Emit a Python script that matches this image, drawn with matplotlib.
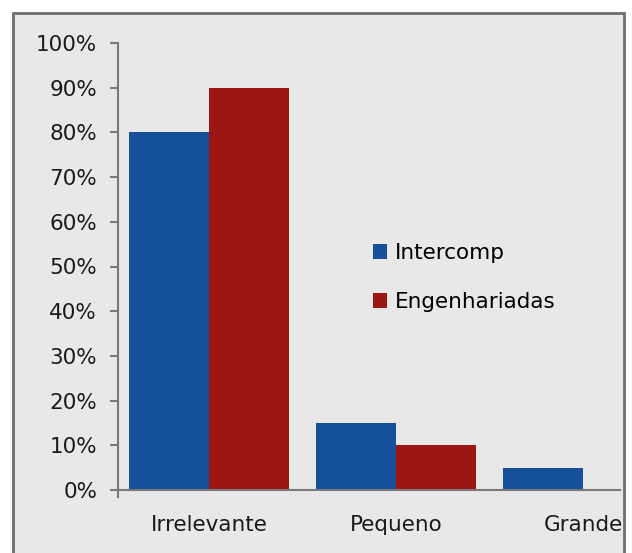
import numpy as np
import matplotlib
matplotlib.use("Agg")
import matplotlib.pyplot as plt
from matplotlib.patches import Rectangle
from matplotlib.ticker import PercentFormatter

# Data
categories = ['Irrelevante', 'Pequeno', 'Grande']
intercomp = [0.80, 0.15, 0.05]
engenhariadas = [0.90, 0.10, 0.0]
series_names = ['Intercomp', 'Engenhariadas']

blue = '#17509a'
red = '#9c1614'
panel = '#e8e8e8'
fs = 15.5

plt.rcParams['font.family'] = ['DejaVu Sans']

fig = plt.figure(figsize=(6.32, 5.53), dpi=100)
fig.patch.set_facecolor('white')

# gray framed panel behind the chart
fig.patches.append(Rectangle((13 / 632, -0.01), (624 - 13) / 632, 1 - 13 / 553 + 0.01,
                             transform=fig.transFigure, facecolor=panel,
                             edgecolor='#6e6e6e', linewidth=2, zorder=-1))

ax = fig.add_axes([118 / 632, 1 - 490 / 553, (620 - 118) / 632, (490 - 43) / 553])
ax.set_facecolor('none')

x = np.arange(len(categories))
w = 0.428
ax.bar(x - w, intercomp, width=w, align='edge', color=blue, label=series_names[0])
ax.bar(x, engenhariadas, width=w, align='edge', color=red, label=series_names[1])

ax.set_xlim(-0.487, 2.198)
ax.set_ylim(0, 1.0)
ax.set_yticks(np.arange(0, 1.01, 0.1))
ax.yaxis.set_major_formatter(PercentFormatter(1.0, decimals=0))
ax.set_xticks(x)
ax.set_xticklabels(categories)

for s in ['top', 'right']:
    ax.spines[s].set_visible(False)
for s in ['left', 'bottom']:
    ax.spines[s].set_color('#7a7a7a')
    ax.spines[s].set_linewidth(1.5)

ax.tick_params(axis='y', direction='out', length=6, width=1.5, color='#7a7a7a',
               pad=9, labelsize=fs, labelcolor='#1a1a1a')
ax.tick_params(axis='x', length=0, pad=18, labelsize=fs, labelcolor='#1a1a1a')

# small tick below the origin
ax.plot([0, 0], [0, -0.016], transform=ax.get_yaxis_transform(), color='#7a7a7a',
        lw=1.5, clip_on=False)

ax.legend(loc='upper left', bbox_to_anchor=(0.508, 0.553), frameon=False,
          handlelength=0.65, handleheight=0.7, handletextpad=0.35,
          labelspacing=1.34, fontsize=fs, borderpad=0, borderaxespad=0)

fig.savefig('out.png', dpi=100)
